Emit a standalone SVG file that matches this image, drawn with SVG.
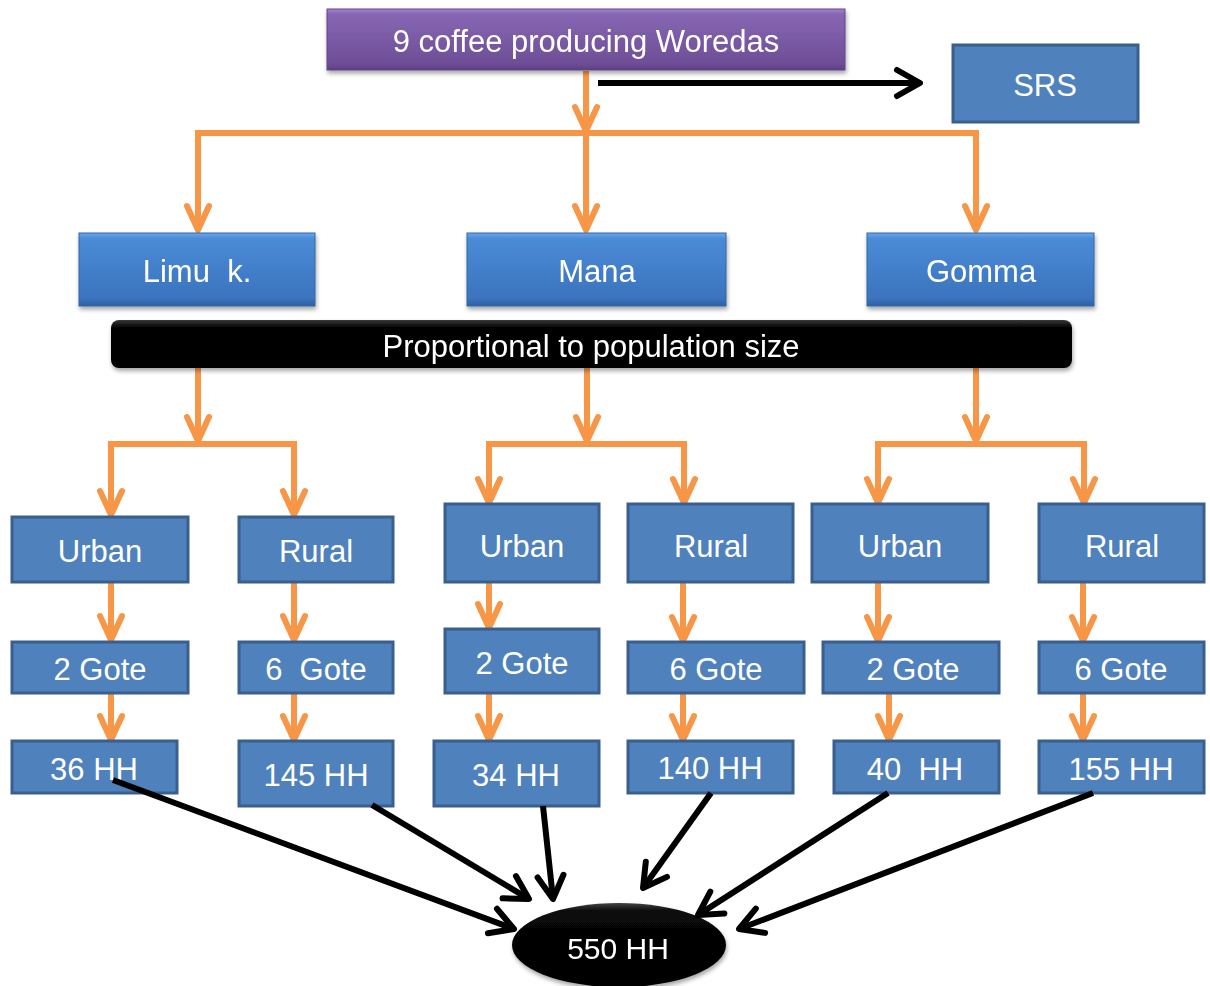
<svg xmlns="http://www.w3.org/2000/svg" width="1210" height="986" viewBox="0 0 1210 986">
<style>
text{font-family:"Liberation Sans",Arial,sans-serif;fill:#fff;text-anchor:middle;white-space:pre}
.t31{font-size:31px}
.t30{font-size:30px}
.box{fill:#4F81BD;stroke:#3A5F8E;stroke-width:3}
.lvl2{fill:url(#blueGrad);stroke:#3566A6;stroke-width:1}
.or{fill:none;stroke:#F79646;stroke-width:6}
.oa{fill:none;stroke:#F79646;stroke-width:6;marker-end:url(#orHead)}
.ba{fill:none;stroke:#000;stroke-width:6;marker-end:url(#blHead)}
</style>
<defs>
<linearGradient id="blueGrad" x1="0" y1="0" x2="0" y2="1">
<stop offset="0" stop-color="#6AA8EC"/>
<stop offset="0.08" stop-color="#4A8BD6"/>
<stop offset="0.9" stop-color="#3B73BE"/>
<stop offset="1" stop-color="#2F5F9E"/>
</linearGradient>
<linearGradient id="purpleGrad" x1="0" y1="0" x2="0" y2="1">
<stop offset="0" stop-color="#A584D0"/>
<stop offset="0.08" stop-color="#8766B3"/>
<stop offset="0.9" stop-color="#6E4E96"/>
<stop offset="1" stop-color="#5B3F80"/>
</linearGradient>
<linearGradient id="blackGrad" x1="0" y1="0" x2="0" y2="1">
<stop offset="0" stop-color="#3a3a3a"/>
<stop offset="0.15" stop-color="#050505"/>
<stop offset="1" stop-color="#000"/>
</linearGradient>
<linearGradient id="ellGrad" x1="0" y1="0" x2="0" y2="1">
<stop offset="0" stop-color="#444"/>
<stop offset="0.1" stop-color="#080808"/>
<stop offset="1" stop-color="#000"/>
</linearGradient>
<filter id="sh" x="-10%" y="-20%" width="120%" height="150%">
<feDropShadow dx="1" dy="3" stdDeviation="2" flood-color="#000" flood-opacity="0.35"/>
</filter>
<marker id="orHead" markerUnits="userSpaceOnUse" orient="auto" refX="0" refY="0" markerWidth="40" markerHeight="40" viewBox="-30 -20 40 40" overflow="visible">
<path d="M-24,-11 L0,0 L-24,11" fill="none" stroke="#F79646" stroke-width="6" stroke-linecap="round" stroke-linejoin="round"/>
</marker>
<marker id="blHead" markerUnits="userSpaceOnUse" orient="auto" refX="0" refY="0" markerWidth="40" markerHeight="40" viewBox="-30 -20 40 40" overflow="visible">
<path d="M-23,-13 L0,0 L-23,13" fill="none" stroke="#000" stroke-width="6" stroke-linecap="round" stroke-linejoin="round"/>
</marker>
</defs>
<rect width="1210" height="986" fill="#fff"/>

<g id="connectors">
<line class="oa" x1="586" y1="71" x2="586" y2="131"/>
<polyline class="or" points="198,230 198,133 976,133 976,230"/>
<line class="oa" x1="198" y1="133" x2="198" y2="230"/>
<line class="oa" x1="586" y1="133" x2="586" y2="230"/>
<line class="oa" x1="976" y1="133" x2="976" y2="230"/>
<line class="ba" x1="598" y1="83" x2="920" y2="83"/>

<line class="oa" x1="198" y1="368" x2="198" y2="441"/>
<polyline class="or" points="111,515 111,444 294,444 294,515"/>
<line class="oa" x1="111" y1="444" x2="111" y2="515"/>
<line class="oa" x1="294" y1="444" x2="294" y2="515"/>

<line class="oa" x1="587" y1="368" x2="587" y2="441"/>
<polyline class="or" points="489,503 489,444 684,444 684,503"/>
<line class="oa" x1="489" y1="444" x2="489" y2="503"/>
<line class="oa" x1="684" y1="444" x2="684" y2="503"/>

<line class="oa" x1="976" y1="368" x2="976" y2="441"/>
<polyline class="or" points="878,503 878,444 1084,444 1084,503"/>
<line class="oa" x1="878" y1="444" x2="878" y2="503"/>
<line class="oa" x1="1084" y1="444" x2="1084" y2="503"/>

<line class="oa" x1="111" y1="582" x2="111" y2="640"/>
<line class="oa" x1="111" y1="693" x2="111" y2="740"/>
<line class="oa" x1="294" y1="582" x2="294" y2="640"/>
<line class="oa" x1="294" y1="693" x2="294" y2="740"/>

<line class="oa" x1="489" y1="582" x2="489" y2="628"/>
<line class="oa" x1="489" y1="693" x2="489" y2="740"/>
<line class="oa" x1="683" y1="582" x2="683" y2="641"/>
<line class="oa" x1="683" y1="693" x2="683" y2="740"/>

<line class="oa" x1="878" y1="582" x2="878" y2="641"/>
<line class="oa" x1="889" y1="693" x2="889" y2="740"/>
<line class="oa" x1="1083" y1="582" x2="1083" y2="641"/>
<line class="oa" x1="1083" y1="693" x2="1083" y2="740"/>
</g>

<g id="n-woredas" filter="url(#sh)">
<rect x="327" y="9" width="518" height="61" fill="url(#purpleGrad)" stroke="#5F4685" stroke-width="1"/>
<text class="t31" x="586" y="52">9 coffee producing Woredas</text>
</g>
<g id="n-srs">
<rect class="box" x="953" y="45" width="185" height="77"/>
<text class="t31" x="1045" y="96">SRS</text>
</g>

<g id="n-limu" filter="url(#sh)">
<rect class="lvl2" x="79" y="233" width="236" height="73"/>
<text class="t31" x="197" y="282">Limu  k.</text>
</g>
<g id="n-mana" filter="url(#sh)">
<rect class="lvl2" x="467" y="233" width="259" height="73"/>
<text class="t31" x="597" y="282">Mana</text>
</g>
<g id="n-gomma" filter="url(#sh)">
<rect class="lvl2" x="867" y="233" width="227" height="73"/>
<text class="t31" x="981" y="282">Gomma</text>
</g>

<g id="n-proportional" filter="url(#sh)">
<rect x="111" y="320" width="961" height="48" rx="8" fill="url(#blackGrad)"/>
<text class="t31" x="591" y="357">Proportional to population size</text>
</g>

<g id="n-urban1"><rect class="box" x="12" y="517" width="176" height="65"/><text class="t31" x="100" y="562">Urban</text></g>
<g id="n-rural1"><rect class="box" x="239" y="517" width="154" height="65"/><text class="t31" x="316" y="562">Rural</text></g>
<g id="n-gote1"><rect class="box" x="12" y="642" width="176" height="51"/><text class="t31" x="100" y="680">2 Gote</text></g>
<g id="n-gote2"><rect class="box" x="239" y="642" width="154" height="51"/><text class="t31" x="316" y="680">6  Gote</text></g>
<g id="n-hh36"><rect class="box" x="12" y="741" width="165" height="52"/><text class="t31" x="94" y="780">36 HH</text></g>
<g id="n-hh145"><rect class="box" x="239" y="741" width="154" height="65"/><text class="t31" x="316" y="786">145 HH</text></g>

<g id="n-urban2"><rect class="box" x="445" y="504" width="154" height="78"/><text class="t31" x="522" y="557">Urban</text></g>
<g id="n-rural2"><rect class="box" x="628" y="504" width="165" height="78"/><text class="t31" x="711" y="557">Rural</text></g>
<g id="n-gote3"><rect class="box" x="445" y="629" width="154" height="64"/><text class="t31" x="522" y="674">2 Gote</text></g>
<g id="n-gote4"><rect class="box" x="628" y="642" width="176" height="51"/><text class="t31" x="716" y="680">6 Gote</text></g>
<g id="n-hh34"><rect class="box" x="434" y="741" width="165" height="65"/><text class="t31" x="516" y="786">34 HH</text></g>
<g id="n-hh140"><rect class="box" x="628" y="741" width="165" height="52"/><text class="t31" x="710" y="779">140 HH</text></g>

<g id="n-urban3"><rect class="box" x="812" y="504" width="176" height="78"/><text class="t31" x="900" y="557">Urban</text></g>
<g id="n-rural3"><rect class="box" x="1039" y="504" width="165" height="78"/><text class="t31" x="1122" y="557">Rural</text></g>
<g id="n-gote5"><rect class="box" x="823" y="642" width="176" height="51"/><text class="t31" x="913" y="680">2 Gote</text></g>
<g id="n-gote6"><rect class="box" x="1039" y="642" width="165" height="51"/><text class="t31" x="1121" y="680">6 Gote</text></g>
<g id="n-hh40"><rect class="box" x="834" y="741" width="165" height="52"/><text class="t31" x="915" y="780">40  HH</text></g>
<g id="n-hh155"><rect class="box" x="1039" y="741" width="165" height="52"/><text class="t31" x="1121" y="780">155 HH</text></g>

<g id="n-total" filter="url(#sh)">
<ellipse cx="619" cy="945" rx="107" ry="42" fill="url(#ellGrad)"/>
<text class="t30" x="618" y="959">550 HH</text>
</g>

<g id="connectors-black">
<line class="ba" x1="113" y1="780" x2="514" y2="929"/>
<line class="ba" x1="372" y1="805" x2="529" y2="899"/>
<line class="ba" x1="543" y1="806" x2="553" y2="899"/>
<line class="ba" x1="711" y1="793" x2="643" y2="888"/>
<line class="ba" x1="888" y1="793" x2="698" y2="915"/>
<line class="ba" x1="1093" y1="793" x2="739" y2="929"/>
</g>
</svg>
